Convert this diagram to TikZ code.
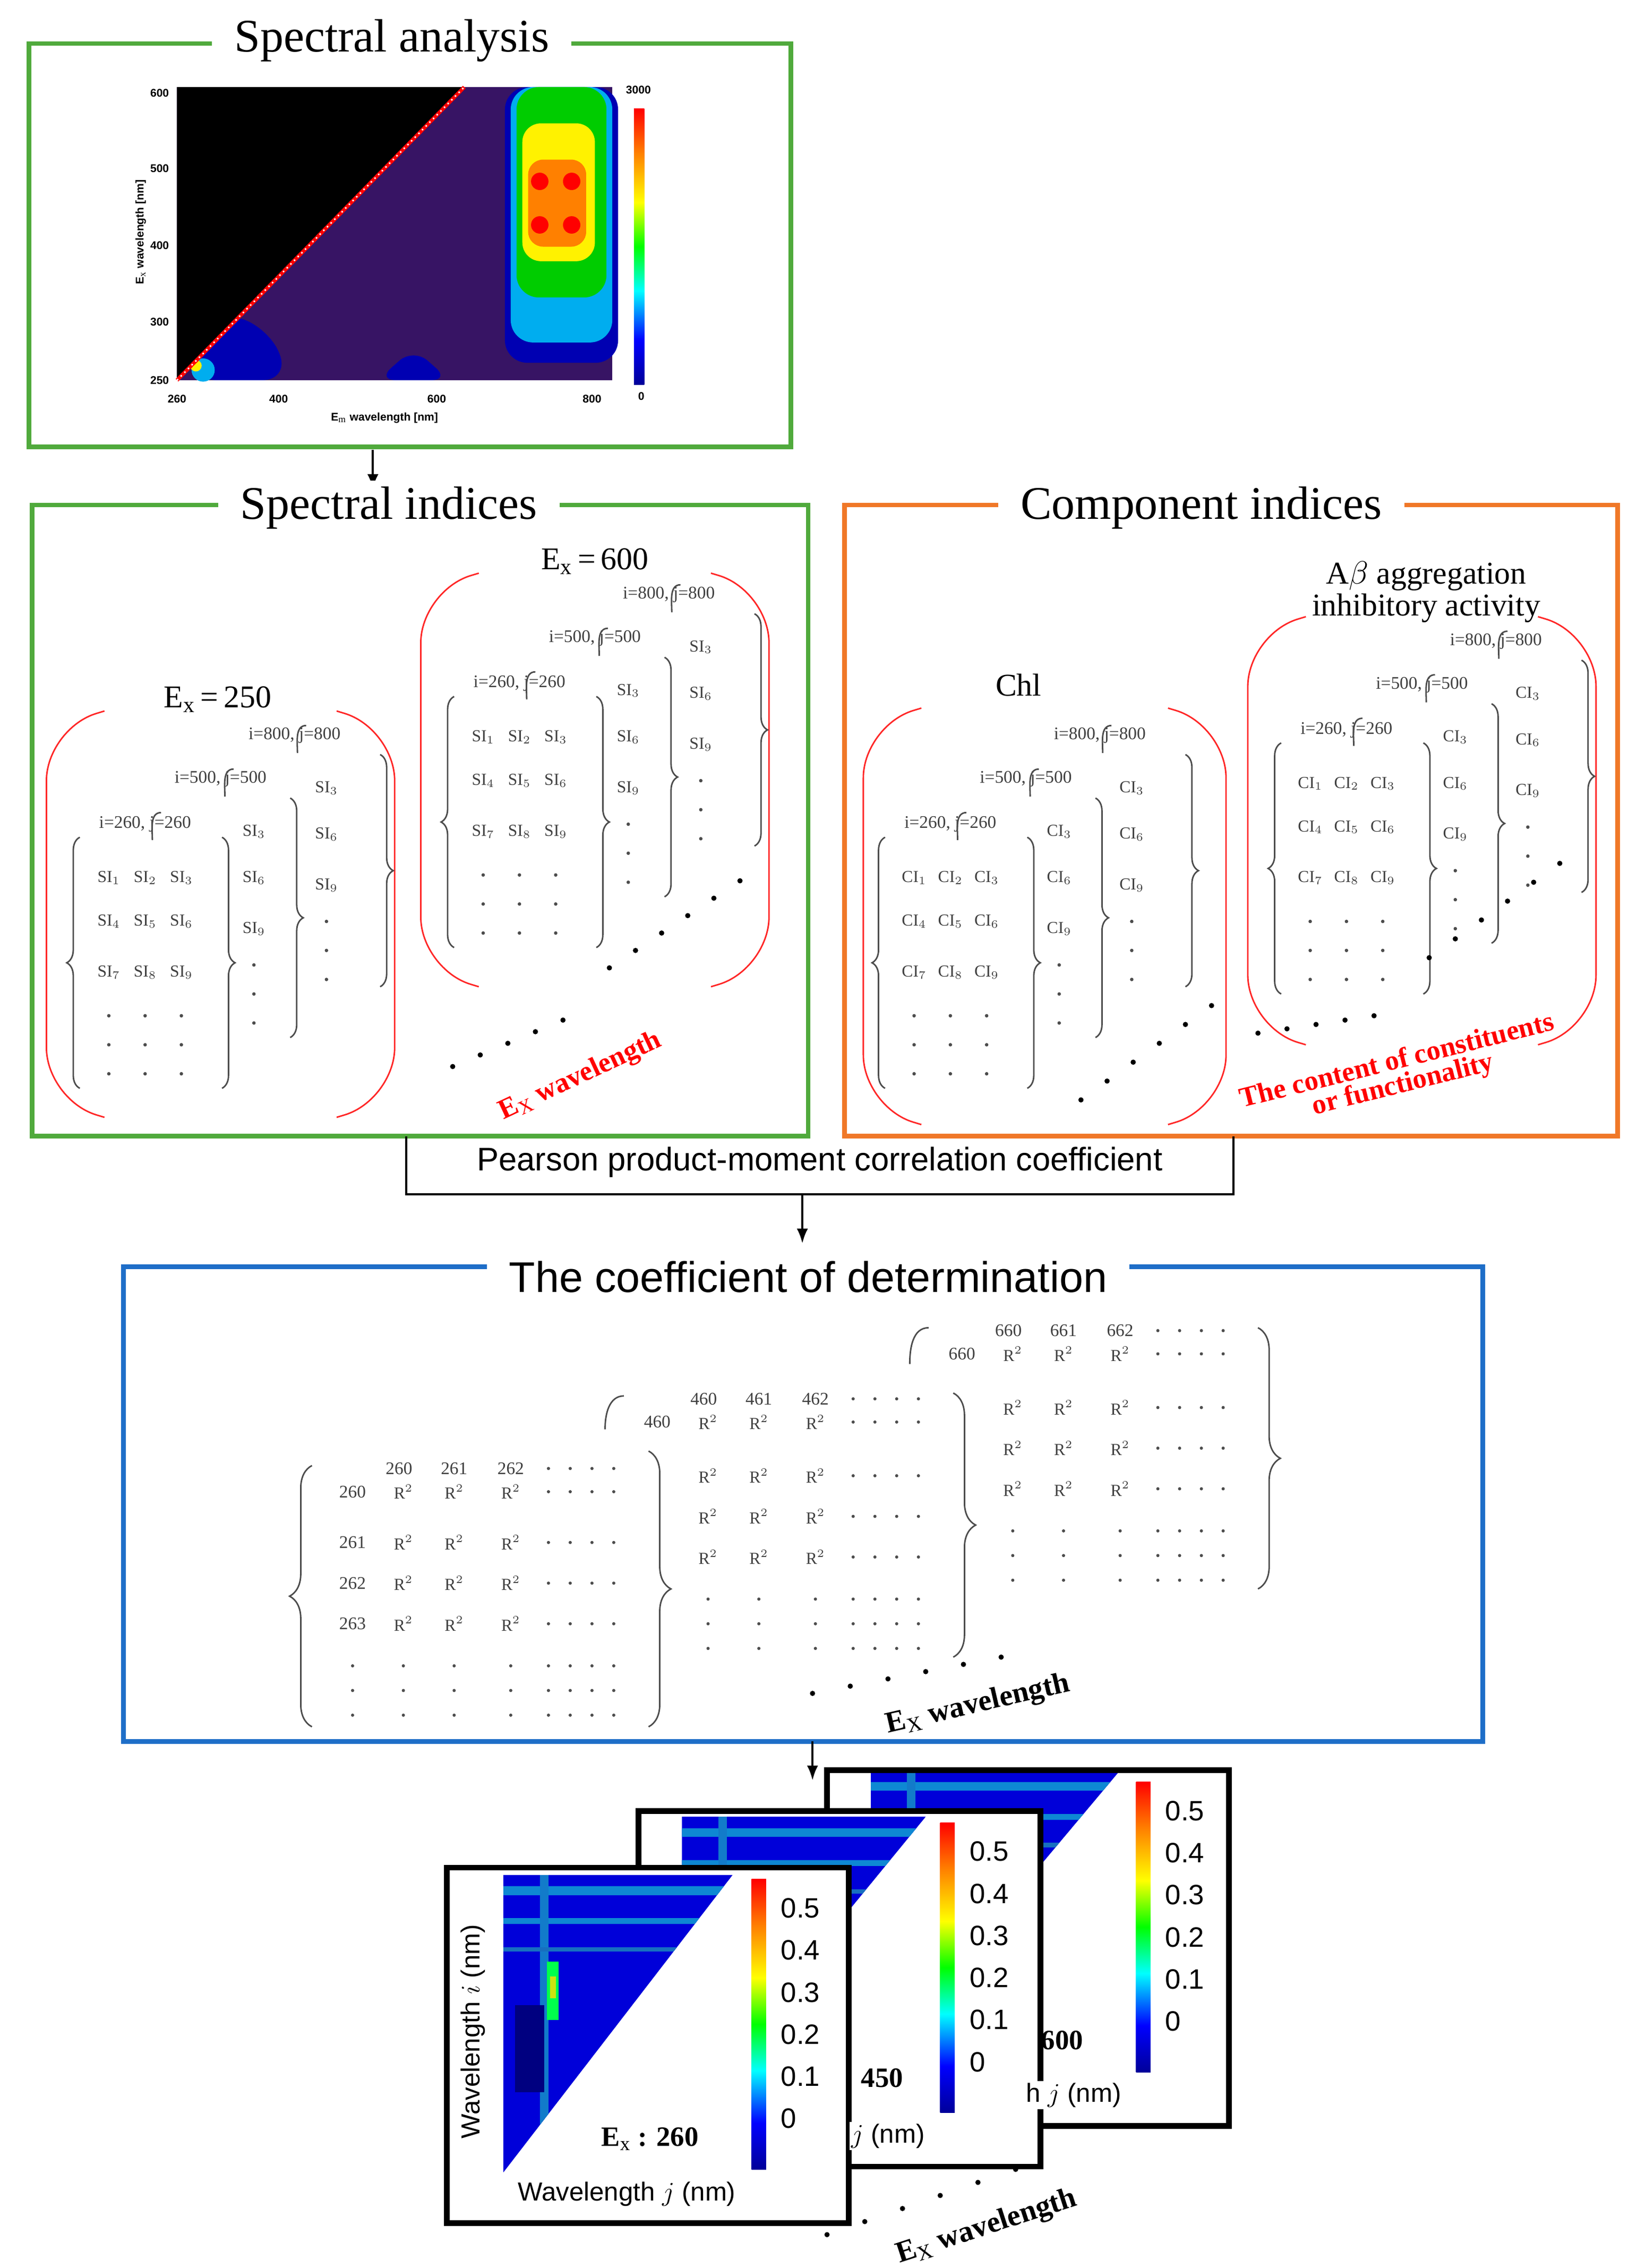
\documentclass[tikz,border=0pt]{standalone}
\usepackage{fontspec}
\setmainfont{Liberation Serif}
\newfontfamily\sansf{Liberation Sans}
\usetikzlibrary{decorations.pathreplacing,arrows.meta}
\pgfdeclareverticalshading{jet}{100bp}{color(0bp)=(blue!60!black); color(25bp)=(blue!60!black); color(33bp)=(blue); color(42bp)=(cyan); color(50bp)=(green); color(58bp)=(yellow); color(67bp)=(orange); color(75bp)=(red); color(100bp)=(red)}
\definecolor{gbox}{RGB}{80,170,60}
\definecolor{obox}{RGB}{240,120,40}
\definecolor{bbox}{RGB}{30,110,200}
\definecolor{heat}{RGB}{55,20,100}
\tikzset{
 ttl/.style={fill=white,inner xsep=12pt,font=\fontsize{25}{27}\selectfont},
 ent/.style={inner sep=0pt,font=\fontsize{9}{10}\selectfont,text=black!75},
 lab/.style={inner sep=0pt,font=\fontsize{9.5}{10}\selectfont,text=black!75},
 br/.style={decorate,decoration={brace,amplitude=7pt},black!70,thick},
 rp/.style={red!85,thick,rounded corners=28},
 redt/.style={red,font=\bfseries\fontsize{15}{16}\selectfont},
 arr/.style={-{Latex[length=8pt]},very thick},
 cb/.style={font=\sansf\fontsize{15}{16}\selectfont,anchor=west,inner sep=0pt},
 dt/.style={fill=black}
}
\newcommand\mystack[3]{%
\begin{scope}[shift={(#1,#2)}]
\foreach \x/\y/\k in {0/0/1,25/0/2,50/0/3,0/30/4,25/30/5,50/30/6,0/65/7,25/65/8,50/65/9}
  \node[ent] at (\x,\y) {#3$_{\k}$};
\foreach \x in {0,25,50} \foreach \y in {95,115,135} \fill[black!70] (\x,\y) circle (1.2);
\draw[br] (-20,145) -- (-20,-28);
\draw[br] (78,-28) -- (78,145);
\node[lab] at (25,-37) {i=260, j=260};
\foreach \y/\k in {-32/3,0/6,35/9} \node[ent] at (100,\y) {#3$_{\k}$};
\foreach \y in {60,80,100} \fill[black!70] (100,\y) circle (1.2);
\draw[br] (125,-55) -- (125,110);
\draw[black!70,thick] (30,-26) to[out=90,in=180] (36,-45);
\node[lab] at (77,-68) {i=500, j=500};
\foreach \y/\k in {-62/3,-30/6,5/9} \node[ent] at (150,\y) {#3$_{\k}$};
\foreach \y in {30,50,70} \fill[black!70] (150,\y) circle (1.2);
\draw[br] (187,-85) -- (187,75);
\draw[black!70,thick] (80,-56) to[out=90,in=180] (86,-75);
\node[lab] at (128,-98) {i=800, j=800};
\draw[black!70,thick] (130,-86) to[out=90,in=180] (136,-105);
\end{scope}}
\newcommand\redpar[4]{%
\draw[rp] (#1+40,#3) -- (#1,#3+12) -- (#1,#4-12) -- (#1+40,#4);
\draw[rp] (#2-40,#3) -- (#2,#3+12) -- (#2,#4-12) -- (#2-40,#4);}
\begin{document}
\begin{tikzpicture}[x=0.02733cm,y=-0.02733cm]
\path[use as bounding box,fill=white] (0,0) rectangle (1128,1563);
% ---------- Spectral analysis
\draw[gbox,line width=2.5pt] (20,30) rectangle (545,308);
\node[ttl] (t1) at (270,28) {Spectral analysis};
\fill[heat] (122,60) rectangle (422,262);
\fill[blue!70!black,rounded corners=15] (130,262) -- (150,215) -- (185,225) -- (200,262) -- cycle;
\fill[blue!70!black,rounded corners=10] (260,262) -- (285,240) -- (310,262) -- cycle;
\fill[blue!70!black,rounded corners=12] (348,60) rectangle (426,250);
\fill[cyan,rounded corners=12] (352,60) rectangle (422,236);
\fill[green!80!black,rounded corners=12] (356,60) rectangle (418,205);
\fill[yellow,rounded corners=10] (360,85) rectangle (410,180);
\fill[orange,rounded corners=8] (364,110) rectangle (404,170);
\foreach \y in {125,155} \fill[red] (372,\y) circle (6) (394,\y) circle (6);
\fill[cyan] (140,255) circle (8);
\fill[yellow] (135,252) circle (4);
\fill[black] (122,60) -- (320,60) -- (122,262) -- cycle;
\draw[red,line width=2pt] (122,262) -- (320,60);
\draw[white,dotted,thick] (122,262) -- (320,60);
\shade[shading=jet] (437,75) rectangle (444,265);
\node[font=\sansf\bfseries\fontsize{6}{7}\selectfont] at (440,62) {3000};
\node[font=\sansf\bfseries\fontsize{6}{7}\selectfont] at (442,273) {0};
\foreach \v/\y in {600/64,500/116,400/169,300/222,250/262} \node[font=\sansf\bfseries\fontsize{6}{7}\selectfont,anchor=east] at (121,\y) {\v};
\foreach \v/\x in {260/122,400/192,600/301,800/408} \node[font=\sansf\bfseries\fontsize{6}{7}\selectfont] at (\x,275) {\v};
\node[font=\sansf\bfseries\fontsize{6}{7}\selectfont] at (265,288) {E$_\mathrm{m}$ wavelength [nm]};
\node[font=\sansf\bfseries\fontsize{6}{7}\selectfont,rotate=90] at (97,160) {E$_\mathrm{x}$ wavelength [nm]};
\coordinate (a1s) at (257,310); \coordinate (a1e) at (257,337);
\draw[arr] (a1s) -- (a1e);
% ---------- Spectral indices
\draw[gbox,line width=2.5pt] (22,348) rectangle (557,783);
\node[ttl] (t2) at (268,350) {Spectral indices};
\redpar{32}{272}{490}{770}
\redpar{290}{530}{395}{680}
\node[font=\fontsize{17}{18}\selectfont] at (150,482) {E$_\mathrm{x}$\,=\,250};
\node[font=\fontsize{17}{18}\selectfont] at (410,387) {E$_\mathrm{x}$\,=\,600};
\mystack{75}{605}{SI}
\mystack{333}{508}{SI}
\foreach \i in {0,...,4} \fill (312+\i*19,735-\i*8) circle (1.8);
\node[redt,rotate=25] at (400,742) {E$_\mathrm{X}$ wavelength};
\foreach \i in {0,...,5} \fill (420+\i*18,667-\i*12) circle (1.8);
% ---------- Component indices
\draw[obox,line width=2.5pt] (582,348) rectangle (1115,783);
\node[ttl] (t3) at (828,350) {Component indices};
\redpar{595}{845}{488}{775}
\redpar{860}{1100}{425}{720}
\node[font=\fontsize{17}{18}\selectfont] at (702,472) {Chl};
\node[font=\fontsize{17}{19}\selectfont,align=center] at (983,408) {A$\beta$ aggregation\\[-2pt]inhibitory activity};
\mystack{630}{605}{CI}
\mystack{903}{540}{CI}
\foreach \i in {0,...,5} \fill (745+\i*18,758-\i*13) circle (1.8);
\foreach \i in {0,...,5} \fill (985+\i*18,660-\i*13) circle (1.8);
\foreach \i in {0,...,4} \fill (867+\i*20,712-\i*3) circle (1.8);
\node[redt,rotate=14,align=center] at (965,740) {The content of constituents\\[-3pt]or functionality};
% ---------- Pearson
\coordinate (p1) at (280,783); \coordinate (p2) at (850,783);
\draw[very thick] (p1) |- (565,823) -| (p2);
\node[font=\sansf\fontsize{17.5}{19}\selectfont,fill=white,inner sep=2pt] (pe) at (565,801) {Pearson product-moment correlation coefficient};
\coordinate (a2s) at (553,823); \coordinate (a2e) at (553,857);
\draw[arr] (a2s) -- (a2e);
% ---------- Coefficient of determination
\draw[bbox,line width=2.5pt] (85,873) rectangle (1022,1200);
\node[ttl,font=\sansf\fontsize{23}{25}\selectfont] (t4) at (557,880) {The coefficient of determination};
\foreach \dx/\dy/\a/\b/\c/\rh in {420/-95/660/661/662/660, 210/-48/460/461/462/460, 0/0/260/261/262/260}{
\begin{scope}[shift={(\dx,\dy)}]
\node[lab] at (275,1012) {\a}; \node[lab] at (313,1012) {\b}; \node[lab] at (352,1012) {\c};
\node[lab] at (243,1028) {\rh};
\foreach \x in {278,313,352} \node[ent] at (\x,1028) {R$^2$};
\foreach \x in {378,393,408,423} \fill[black!70] (\x,1012) circle (1.1) (\x,1028) circle (1.1);
\end{scope}}
\foreach \y/\r in {1063/261,1091/262,1119/263}{
\node[lab] at (243,\y) {\r};
\foreach \x in {278,313,352} \node[ent] at (\x,\y) {R$^2$};
\foreach \x in {378,393,408,423} \fill[black!70] (\x,\y) circle (1.1);}
\foreach \x in {243,278,313,352,378,393,408,423} \foreach \y in {1148,1165,1182} \fill[black!70] (\x,\y) circle (1.1);
\foreach \y in {1017,1045,1073}{
\foreach \x in {488,523,562} \node[ent] at (\x,\y) {R$^2$};
\foreach \x in {588,603,618,633} \fill[black!70] (\x,\y) circle (1.1);}
\foreach \x in {488,523,562,588,603,618,633} \foreach \y in {1102,1119,1136} \fill[black!70] (\x,\y) circle (1.1);
\foreach \y in {970,998,1026}{
\foreach \x in {698,733,772} \node[ent] at (\x,\y) {R$^2$};
\foreach \x in {798,813,828,843} \fill[black!70] (\x,\y) circle (1.1);}
\foreach \x in {698,733,772,798,813,828,843} \foreach \y in {1055,1072,1089} \fill[black!70] (\x,\y) circle (1.1);
\draw[br,decoration={amplitude=12pt}] (215,1190) -- (215,1010);
\draw[br,decoration={amplitude=12pt}] (447,1000) -- (447,1190);
\draw[br,decoration={amplitude=12pt}] (657,960) -- (657,1142);
\draw[br,decoration={amplitude=12pt}] (867,915) -- (867,1095);
\draw[black!70,thick] (417,985) to[out=90,in=180] (430,962);
\draw[black!70,thick] (627,940) to[out=90,in=180] (640,915);
\foreach \i in {0,...,5} \fill (560+\i*26,1167-\i*5) circle (1.8);
\node[font=\bfseries\fontsize{16}{17}\selectfont,rotate=13] at (674,1175) {E$_\mathrm{X}$ wavelength};
\coordinate (a3s) at (560,1200); \coordinate (a3e) at (560,1227);
\draw[arr] (a3s) -- (a3e);
% ---------- Heatmap panels
\foreach \fx/\fy/\px/\py/\pw/\cx/\lab/\lx/\ly in {570/1220/600/1220/172/783/600/732/1406, 440/1248/470/1252/168/648/450/608/1432, 308/1287/347/1292/158/518/{E$_\mathrm{x}$ : 260}/448/1474}{
\fill[white] (\fx,\fy) rectangle ++(277,245);
\begin{scope}
\clip (\px,\py) -- ++(\pw,0) -- ++(-\pw,205) -- cycle;
\fill[blue!85!black] (\px,\py) rectangle ++(\pw,205);
\fill[cyan!70!blue] (\px,\py+8) rectangle ++(\pw,6);
\fill[cyan!70!blue] (\px,\py+30) rectangle ++(\pw,4);
\fill[cyan!60!blue] (\px+25,\py) rectangle ++(6,205);
\fill[green!70!cyan] (\px+30,\py+60) rectangle ++(8,40);
\fill[yellow!80!green] (\px+32,\py+70) rectangle ++(4,15);
\fill[blue!50!black] (\px+8,\py+90) rectangle ++(20,60);
\fill[cyan!50!blue] (\px,\py+50) rectangle ++(\pw,3);
\end{scope}
\shade[shading=jet] (\cx,\fy+8) rectangle ++(10,200);
\foreach \v/\k in {0.5/0,0.4/1,0.3/2,0.2/3,0.1/4,0/5} \node[cb] at (\cx+20,\fy+28+\k*29) {\v};
\node[font=\bfseries\fontsize{15}{16}\selectfont] at (\lx,\ly) {\lab};
\draw[line width=3pt] (\fx,\fy) rectangle ++(277,245);
}
\node[font=\sansf\fontsize{14}{15}\selectfont,fill=white,inner sep=1pt] at (740,1444) {h $j$ (nm)};
\node[font=\sansf\fontsize{14}{15}\selectfont,fill=white,inner sep=1pt] at (612,1472) {$j$ (nm)};
\node[font=\sansf\fontsize{14}{15}\selectfont] at (432,1512) {Wavelength $j$ (nm)};
\node[font=\sansf\fontsize{14}{15}\selectfont,rotate=90] at (326,1400) {Wavelength $i$ (nm)};
\foreach \i in {0,...,5} \fill (570+\i*26,1540-\i*9) circle (1.8);
\node[font=\bfseries\fontsize{16}{17}\selectfont,rotate=18] at (680,1535) {E$_\mathrm{X}$ wavelength};
\end{tikzpicture}
\end{document}
